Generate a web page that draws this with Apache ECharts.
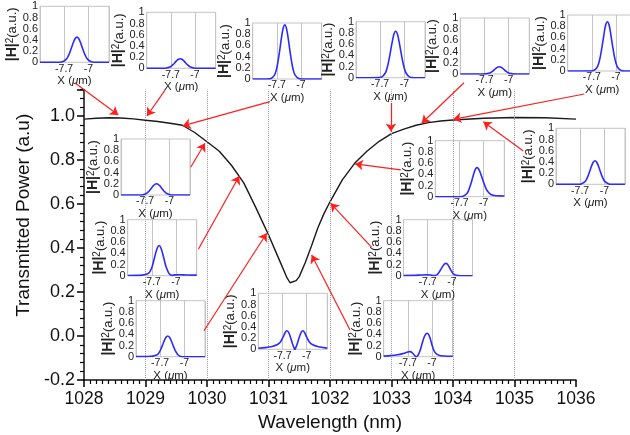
<!DOCTYPE html>
<html><head><meta charset="utf-8">
<script src="https://cdn.jsdelivr.net/npm/echarts@6/dist/echarts.min.js"></script>
<style>html,body{margin:0;padding:0;background:#fff}#c{width:630px;height:435px}</style>
</head><body><div id="c"></div>
<script>
// ---------- main curve ----------
const wavelength = [1028.0,1028.2,1028.4,1028.6,1028.8,1029.0,1029.2,1029.4,1029.6,1029.8,1030.0,1030.2,1030.4,1030.6,1030.8,1030.9,1031.0,1031.1,1031.2,1031.3,1031.35,1031.45,1031.5,1031.6,1031.7,1031.8,1031.9,1032.0,1032.2,1032.4,1032.6,1032.8,1033.0,1033.2,1033.4,1033.6,1033.8,1034.0,1034.5,1035.0,1035.5,1036.0];
const transmission = [0.986,0.990,0.992,0.991,0.987,0.981,0.975,0.967,0.958,0.925,0.883,0.84,0.775,0.695,0.58,0.52,0.46,0.395,0.33,0.265,0.242,0.252,0.27,0.335,0.41,0.49,0.555,0.61,0.71,0.785,0.84,0.885,0.92,0.94,0.958,0.97,0.977,0.982,0.99,0.993,0.992,0.986];
const gridWavelengths = [1029,1030,1031,1032,1033,1034,1035];

// ---------- inset field profiles |H|^2 vs X (um) ----------
const profileA = [[-8.4,0],[-7.83,0.002],[-7.73,0.013],[-7.63,0.061],[-7.58,0.113],[-7.53,0.185],[-7.48,0.273],[-7.43,0.36],[-7.38,0.426],[-7.33,0.45],[-7.28,0.426],[-7.23,0.36],[-7.18,0.273],[-7.13,0.185],[-7.08,0.113],[-7.03,0.061],[-6.93,0.013],[-6.83,0.002],[-6.4,0]];
const profileB = [[-8.4,0],[-7.93,0.001],[-7.83,0.005],[-7.73,0.023],[-7.68,0.043],[-7.63,0.07],[-7.58,0.103],[-7.53,0.136],[-7.48,0.161],[-7.43,0.17],[-7.38,0.161],[-7.33,0.136],[-7.28,0.103],[-7.23,0.07],[-7.18,0.043],[-7.13,0.023],[-7.03,0.005],[-6.93,0.001],[-6.4,0]];
const profileC = [[-8.4,0],[-7.97,0],[-7.87,0.009],[-7.77,0.07],[-7.72,0.15],[-7.67,0.30],[-7.62,0.50],[-7.57,0.72],[-7.52,0.90],[-7.47,0.97],[-7.42,0.90],[-7.37,0.72],[-7.32,0.50],[-7.27,0.30],[-7.22,0.15],[-7.17,0.07],[-7.07,0.009],[-6.97,0],[-6.4,0]];
const profileD = [[-8.4,0],[-7.75,0.001],[-7.65,0.014],[-7.55,0.084],[-7.5,0.17],[-7.45,0.30],[-7.4,0.47],[-7.35,0.64],[-7.3,0.78],[-7.25,0.83],[-7.2,0.78],[-7.15,0.64],[-7.1,0.47],[-7.05,0.30],[-7.0,0.17],[-6.95,0.084],[-6.85,0.014],[-6.75,0.001],[-6.4,0]];
const profileE = [[-8.4,0],[-7.77,0],[-7.67,0.002],[-7.57,0.013],[-7.52,0.026],[-7.47,0.047],[-7.42,0.073],[-7.37,0.10],[-7.32,0.122],[-7.27,0.13],[-7.22,0.122],[-7.17,0.10],[-7.12,0.073],[-7.07,0.047],[-7.02,0.026],[-6.97,0.013],[-6.87,0.002],[-6.77,0],[-6.4,0]];
const profileF = [[-8.4,0],[-7.75,0],[-7.65,0.008],[-7.55,0.062],[-7.5,0.14],[-7.45,0.27],[-7.4,0.45],[-7.35,0.65],[-7.3,0.82],[-7.25,0.88],[-7.2,0.82],[-7.15,0.65],[-7.1,0.45],[-7.05,0.27],[-7.0,0.14],[-6.95,0.062],[-6.85,0.008],[-6.75,0],[-6.4,0]];
const profileG = [[-8.4,0],[-7.87,0.001],[-7.77,0.006],[-7.67,0.027],[-7.62,0.05],[-7.57,0.082],[-7.52,0.121],[-7.47,0.16],[-7.42,0.189],[-7.37,0.2],[-7.32,0.189],[-7.27,0.16],[-7.22,0.121],[-7.17,0.082],[-7.12,0.05],[-7.07,0.027],[-6.97,0.006],[-6.87,0.001],[-6.4,0]];
const profileH = [[-8.4,0.003],[-8.1,0.006],[-7.99,0.01],[-7.89,0.02],[-7.79,0.045],[-7.74,0.09],[-7.69,0.165],[-7.64,0.28],[-7.59,0.40],[-7.54,0.50],[-7.49,0.54],[-7.44,0.50],[-7.39,0.40],[-7.34,0.28],[-7.29,0.165],[-7.24,0.085],[-7.19,0.03],[-7.12,0.005],[-7.05,0.015],[-6.9,0.018],[-6.7,0.012],[-6.4,0.01]];
const profileI = [[-8.4,0.002],[-8.1,0.004],[-7.98,0.008],[-7.88,0.015],[-7.78,0.037],[-7.73,0.075],[-7.68,0.133],[-7.63,0.208],[-7.58,0.287],[-7.53,0.347],[-7.48,0.37],[-7.43,0.347],[-7.38,0.287],[-7.33,0.208],[-7.28,0.133],[-7.23,0.075],[-7.18,0.03],[-7.1,0.004],[-6.98,0],[-6.4,0]];
const profileJ = [[-8.4,0],[-7.77,0],[-7.67,0.007],[-7.57,0.042],[-7.52,0.085],[-7.47,0.151],[-7.42,0.236],[-7.37,0.326],[-7.32,0.394],[-7.27,0.42],[-7.22,0.394],[-7.17,0.326],[-7.12,0.236],[-7.07,0.151],[-7.02,0.085],[-6.97,0.042],[-6.87,0.007],[-6.77,0],[-6.4,0]];
const profileK = [[-8.4,0],[-7.69,0],[-7.59,0.009],[-7.49,0.052],[-7.44,0.105],[-7.39,0.19],[-7.34,0.29],[-7.29,0.40],[-7.24,0.49],[-7.19,0.52],[-7.14,0.49],[-7.09,0.42],[-7.04,0.33],[-6.99,0.24],[-6.94,0.16],[-6.89,0.10],[-6.79,0.04],[-6.69,0.022],[-6.55,0.015],[-6.4,0.012]];
const profileL = [[-8.4,0.002],[-8.1,0.006],[-7.9,0.012],[-7.75,0.016],[-7.62,0.012],[-7.52,0.003],[-7.45,0.01],[-7.4,0.035],[-7.35,0.08],[-7.3,0.13],[-7.25,0.18],[-7.2,0.215],[-7.17,0.22],[-7.12,0.2],[-7.07,0.15],[-7.02,0.09],[-6.97,0.045],[-6.92,0.018],[-6.82,0.004],[-6.6,0],[-6.4,0]];
const profileM = [[-8.4,0.01],[-8.2,0.02],[-8.0,0.035],[-7.85,0.055],[-7.72,0.08],[-7.64,0.09],[-7.57,0.07],[-7.5,0.02],[-7.46,0.0],[-7.4,0.03],[-7.34,0.12],[-7.28,0.25],[-7.22,0.36],[-7.17,0.41],[-7.14,0.42],[-7.1,0.4],[-7.05,0.32],[-7.0,0.21],[-6.95,0.12],[-6.9,0.065],[-6.8,0.025],[-6.65,0.012],[-6.4,0.008]];
const profileN = [[-8.4,0.02],[-8.2,0.03],[-8.0,0.05],[-7.86,0.08],[-7.76,0.13],[-7.68,0.22],[-7.62,0.3],[-7.58,0.33],[-7.53,0.31],[-7.47,0.22],[-7.41,0.1],[-7.36,0.02],[-7.34,0],[-7.32,0.02],[-7.27,0.1],[-7.21,0.22],[-7.15,0.31],[-7.11,0.33],[-7.06,0.3],[-7.0,0.22],[-6.92,0.13],[-6.82,0.08],[-6.68,0.05],[-6.5,0.03],[-6.4,0.02]];

// arrows: tail and tip in main-chart data units (wavelength, power); null = no arrow
const arrowTails = [[1027.854,1.150],[1029.317,1.118],[1031.024,1.065],[1032.992,1.059],[1034.179,1.151],[1036.135,1.100],[1029.735,0.767],[1029.859,0.394],[1029.951,0.024],[1035.143,0.841],[1033.150,0.755],[1032.678,0.403],[1032.325,0.027],null];
const arrowTips  = [[1028.558,1.005],[1029.024,1.000],[1029.605,0.955],[1032.992,0.929],[1033.491,0.967],[1034.005,0.985],[1029.967,0.876],[1030.525,0.727],[1030.971,0.467],[1034.493,0.974],[1032.407,0.782],[1032.011,0.603],[1031.702,0.368],null];

// ---------- layout (pixels) ----------
const profiles = [profileA,profileB,profileC,profileD,profileE,profileF,profileG,profileH,profileI,profileJ,profileK,profileL,profileM,profileN];
const insetBoxes = [[40,6.3],[146.7,12.3],[252.7,23],[356,21.7],[460.3,18],[567.7,15],[121,139],[127.7,219.7],[136,300.7],[556,128.3],[435.3,140.7],[403.5,219.7],[383.7,300.7],[258.3,293.3]];
const IW = 69, IH = 56;
const FONT = 'Liberation Sans, Arial, sans-serif';

const grids = [{left:84, right:54, top:89.6, bottom:55, outerBoundsMode:'none', containLabel:false}];
const xAxes = [{
  type:'value', gridIndex:0, min:1028, max:1036, interval:1,
  axisLine:{onZero:false, lineStyle:{color:'#111', width:1.5}},
  axisTick:{show:true, length:7, lineStyle:{color:'#000', width:1.5}},
  minorTick:{show:true, splitNumber:10, length:4, lineStyle:{color:'#000', width:1.2}},
  splitLine:{show:false},
  axisLabel:{fontSize:17.5, color:'#111', margin:10, fontFamily:FONT, formatter: v => String(Math.round(v))},
  name:'Wavelength (nm)', nameLocation:'middle', nameGap:31,
  nameTextStyle:{fontSize:19, color:'#111', fontFamily:FONT}
}];
const yAxes = [{
  type:'value', gridIndex:0, min:-0.2, max:1.12, interval:0.2,
  axisLine:{show:true, onZero:false, lineStyle:{color:'#111', width:1.5}},
  axisTick:{show:true, length:7, lineStyle:{color:'#000', width:1.5}},
  minorTick:{show:true, splitNumber:5, length:4, lineStyle:{color:'#000', width:1.2}},
  splitLine:{show:false},
  axisLabel:{fontSize:18, color:'#111', margin:9, fontFamily:FONT,
    formatter: v => v > 1.05 ? '' : v.toFixed(1)},
  name:'Transmitted Power (a.u)', nameLocation:'middle', nameGap:47,
  nameTextStyle:{fontSize:19, color:'#111', fontFamily:FONT, padding:[0,0,0,39]}
}];
const series = [{
  type:'line', xAxisIndex:0, yAxisIndex:0, z:3,
  data: wavelength.map((w,i) => [w, transmission[i]]),
  showSymbol:false, lineStyle:{color:'#1a1a1a', width:1.4},
  markLine:{silent:true, symbol:['none','none'], label:{show:false},
    lineStyle:{type:'dotted', color:'#9a9a9a', width:1},
    data: gridWavelengths.map(w => ({xAxis:w}))}
}];
const rects = [];

insetBoxes.forEach(([l,t], k) => {
  const gi = k + 1;
  grids.push({left:l, top:t, width:IW, height:IH, show:true, borderColor:'#c4c4c4', borderWidth:1,
    backgroundColor:'rgba(0,0,0,0)', z:11, outerBoundsMode:'none', containLabel:false});
  xAxes.push({
    type:'value', gridIndex:gi, min:-8.4, max:-6.4, interval:0.7, z:12,
    axisLine:{show:false}, axisTick:{show:false},
    splitLine:{show:true, lineStyle:{color:'#c4c4c4', width:1}},
    axisLabel:{fontSize:10.5, color:'#222', margin:1, fontFamily:FONT,
      formatter: v => Math.abs(v+7.7) < 0.01 ? '-7.7' : (Math.abs(v+7) < 0.01 ? '-7' : '')},
    name:'{n|X (}{i|μ}{n|m)}', nameLocation:'middle', nameGap:10,
    nameTextStyle:{color:'#222', rich:{n:{fontSize:11.5, color:'#222', fontFamily:FONT}, i:{fontSize:11.5, color:'#222', fontStyle:'italic', fontFamily:FONT}}}
  });
  yAxes.push({
    type:'value', gridIndex:gi, min:0, max:1, interval:0.2, z:12,
    axisLine:{show:false}, axisTick:{show:false}, splitLine:{show:false},
    axisLabel:{fontSize:11, color:'#222', margin:2, fontFamily:FONT},
    name:'{h||H|}{s|2}{n|(a.u.)}', nameLocation:'middle', nameGap:16, nameRotate:90,
    nameTextStyle:{color:'#222', rich:{
      h:{fontSize:14, fontWeight:'bold', color:'#222', fontFamily:FONT, verticalAlign:'bottom'},
      s:{fontSize:10, color:'#222', verticalAlign:'top', fontFamily:FONT},
      n:{fontSize:13, color:'#222', fontFamily:FONT, verticalAlign:'bottom'}}}
  });
  series.push({
    type:'line', xAxisIndex:gi, yAxisIndex:gi, z:12, data:profiles[k],
    showSymbol:false, smooth:0.35, lineStyle:{color:'#2b2bff', width:1.6}
  });
  rects.push({type:'rect', silent:true, z:5,
    shape:{x:l-36, y:t-6, width:IW+40, height:IH+24}, style:{fill:'#ffffff'}});
});

const arrowData = [];
arrowTails.forEach((a, k) => { if (a && arrowTips[k]) arrowData.push({coords:[a, arrowTips[k]]}); });
series.push({
  type:'lines', coordinateSystem:'cartesian2d', xAxisIndex:0, yAxisIndex:0, z:20, clip:false,
  symbol:['none','arrow'], symbolSize:8, silent:true,
  lineStyle:{color:'#ff1f1f', width:1.2, opacity:1, curveness:0},
  data: arrowData
});

const chart = echarts.init(document.getElementById('c'), null, {renderer:'canvas'});
chart.setOption({
  animation:false, backgroundColor:'#fff',
  grid:grids, xAxis:xAxes, yAxis:yAxes, series:series,
  graphic:{elements:rects}
});
</script></body></html>
